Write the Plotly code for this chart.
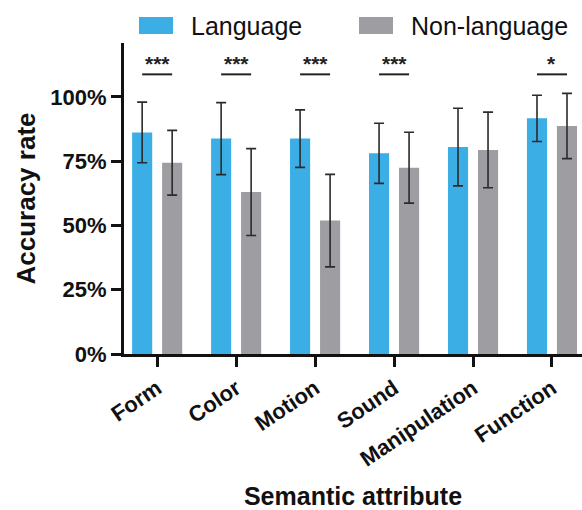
import plotly.graph_objects as go

# Semantic attributes and mean accuracy (%) with error half-widths
attributes = ["Form", "Color", "Motion", "Sound", "Manipulation", "Function"]
language_mean = [86.2, 83.8, 83.8, 78.1, 80.5, 91.7]
language_err = [11.8, 14.0, 11.2, 11.7, 15.1, 9.0]
nonlanguage_mean = [74.4, 63.0, 51.9, 72.5, 79.4, 88.7]
nonlanguage_err = [12.6, 16.9, 18.0, 13.8, 14.7, 12.7]

# Significance markers per attribute (empty = not significant)
significance = ["***", "***", "***", "***", "", "*"]
sig_line_y = 108.8

blue = "#3BAEE6"
gray = "#9E9DA2"
err_color = "#2b2b2b"
font_family = "Liberation Sans, Arial, sans-serif"

fig = go.Figure()
fig.add_trace(go.Bar(
    x=attributes, y=language_mean, name="Language",
    marker=dict(color=blue, line=dict(width=0)),
    error_y=dict(type="data", array=language_err, color=err_color,
                 thickness=1.6, width=5),
    showlegend=False,
))
fig.add_trace(go.Bar(
    x=attributes, y=nonlanguage_mean, name="Non-language",
    marker=dict(color=gray, line=dict(width=0)),
    error_y=dict(type="data", array=nonlanguage_err, color=err_color,
                 thickness=1.6, width=5),
    showlegend=False,
))

shapes = []
annotations = []
# significance bars span from one bar center to the other within each group
half = 0.19
for i, s in enumerate(significance):
    if not s:
        continue
    shapes.append(dict(type="line", xref="x", yref="y",
                       x0=i - half, x1=i + half, y0=sig_line_y, y1=sig_line_y,
                       line=dict(color="#222", width=2)))
    annotations.append(dict(x=i, y=sig_line_y, xref="x", yref="y",
                            text="<b>" + s + "</b>", showarrow=False,
                            yanchor="bottom", yshift=-3,
                            font=dict(size=21, color="#222", family=font_family)))

# custom legend with wide swatches
legend_items = [("Language", blue, 139), ("Non-language", gray, 359)]
for label, color, x0 in legend_items:
    shapes.append(dict(type="rect", xref="paper", yref="paper",
                       x0=(x0 - 124) / 458, x1=(x0 + 34 - 124) / 458,
                       y0=(354 - 34) / 311, y1=(354 - 17) / 311,
                       fillcolor=color, line=dict(width=0)))
    annotations.append(dict(xref="paper", yref="paper",
                            x=(x0 + 50 - 124) / 458, y=(354 - 26) / 311,
                            text=label, showarrow=False, xanchor="left", yanchor="middle",
                            font=dict(size=25, color="#111", family=font_family)))

fig.update_layout(
    width=582, height=510,
    margin=dict(l=124, r=0, t=43, b=156),
    paper_bgcolor="white", plot_bgcolor="white",
    barmode="group", bargap=0.24, bargroupgap=0.33,
    shapes=shapes, annotations=annotations,
    font=dict(family=font_family, color="#111"),
    xaxis=dict(
        range=[-0.42, 5.38],
        tickvals=list(range(len(attributes))),
        ticktext=[f"<b>{a}</b>" for a in attributes],
        showline=True, linecolor="#111", linewidth=3,
        ticks="outside", ticklen=10, tickwidth=2.5, tickcolor="#111",
        tickangle=-34,
        tickfont=dict(size=22, color="#111"),
        title=dict(text="<b>Semantic attribute</b>", font=dict(size=25), standoff=18),
        showgrid=False, zeroline=False,
    ),
    yaxis=dict(
        range=[0, 121],
        tickvals=[0, 25, 50, 75, 100],
        ticktext=["<b>0%</b>", "<b>25%</b>", "<b>50%</b>", "<b>75%</b>", "<b>100%</b>"],
        showline=True, linecolor="#111", linewidth=3,
        ticks="outside", ticklen=10, tickwidth=2.5, tickcolor="#111",
        tickfont=dict(size=22, color="#111"),
        title=dict(text="<b>Accuracy rate</b>", font=dict(size=26), standoff=8),
        showgrid=False, zeroline=False,
    ),
)

fig.write_html("out.html")
